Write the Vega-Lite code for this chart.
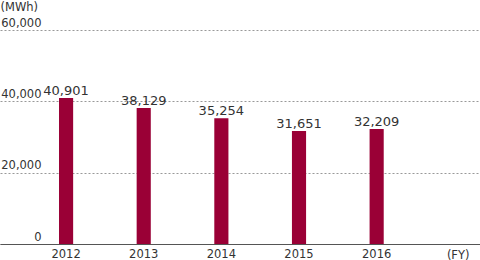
{
  "$schema": "https://vega.github.io/schema/vega-lite/v6.json",
  "width": 480,
  "height": 214,
  "autosize": {"type": "none"},
  "padding": {"left": 0, "top": 30, "right": 0, "bottom": 16},
  "background": "white",
  "config": {"view": {"stroke": null}, "font": "DejaVu Sans"},
  "data": {
    "values": [
      {"year": "2012", "value": 40901},
      {"year": "2013", "value": 38129},
      {"year": "2014", "value": 35254},
      {"year": "2015", "value": 31651},
      {"year": "2016", "value": 32209}
    ]
  },
  "encoding": {
    "x": {
      "field": "year",
      "type": "nominal",
      "sort": null,
      "scale": {"paddingInner": 0.818, "paddingOuter": 1.026, "align": 0.38},
      "axis": {
        "title": "(FY)",
        "labelAngle": 0,
        "ticks": false,
        "tickSize": 0,
        "labelPadding": 4,
        "labelFontSize": 11.5,
        "labelColor": "#333333",
        "domainColor": "#555555",
        "domainWidth": 1,
        "grid": false,
        "titleX": 469,
        "titleY": 14,
        "titleAlign": "right",
        "titleBaseline": "alphabetic",
        "titleFontSize": 11.5,
        "titleFontWeight": "normal",
        "titleColor": "#333333"
      }
    },
    "y": {
      "field": "value",
      "type": "quantitative",
      "scale": {"domain": [0, 60000], "nice": false},
      "axis": {
        "title": "(MWh)",
        "values": [0, 20000, 40000, 60000],
        "format": ",.0f",
        "domain": false,
        "ticks": false,
        "tickSize": 0,
        "labelAlign": "right",
        "labelPadding": -41,
        "labelBaseline": "alphabetic",
        "labelOffset": -4,
        "labelFontSize": 11.5,
        "labelColor": "#333333",
        "gridDash": [2, 2],
        "gridColor": "#999999",
        "gridWidth": 1,
        "titleAngle": 0,
        "titleX": 0,
        "titleY": -20,
        "titleAlign": "left",
        "titleBaseline": "alphabetic",
        "titleFontSize": 11.5,
        "titleFontWeight": "normal",
        "titleColor": "#333333"
      }
    }
  },
  "layer": [
    {"mark": {"type": "bar", "color": "#9a0036"}},
    {
      "mark": {"type": "text", "baseline": "alphabetic", "dy": -3, "fontSize": 13, "color": "#333333"},
      "encoding": {"text": {"field": "value", "type": "quantitative", "format": ",.0f"}}
    }
  ]
}
